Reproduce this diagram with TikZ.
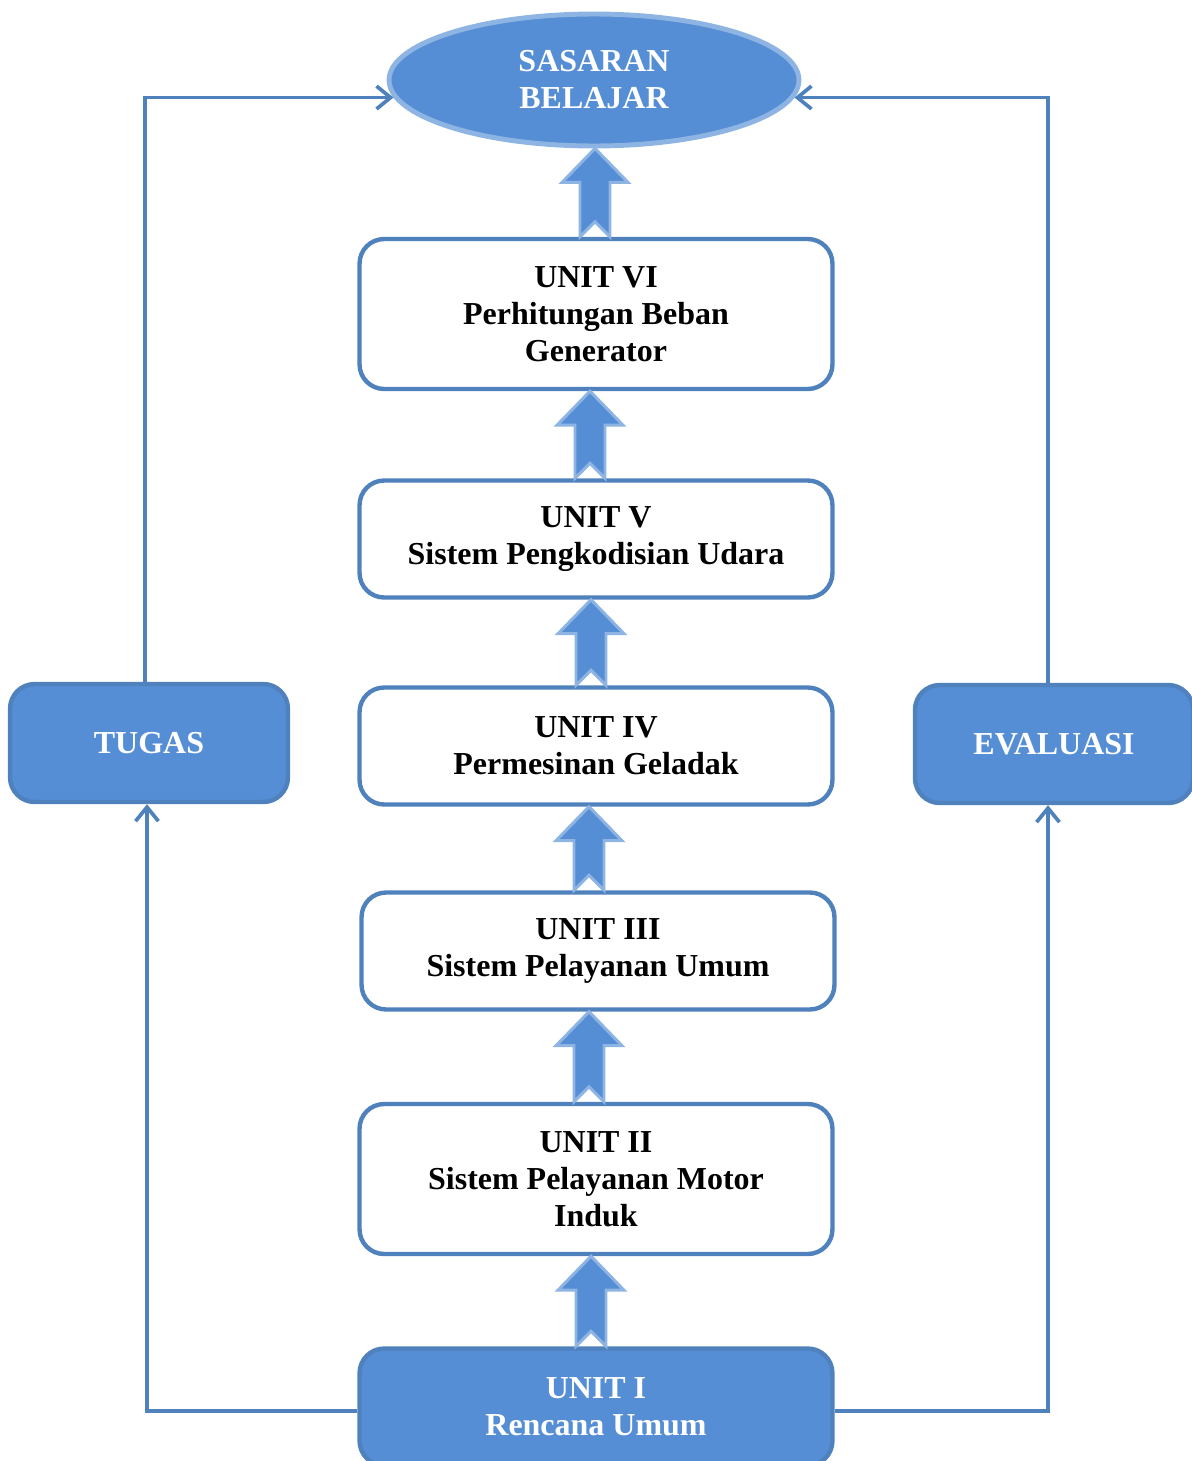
\documentclass[tikz,border=0pt]{standalone}
\usepackage{fontspec}
\setmainfont{Liberation Serif}
\usetikzlibrary{shapes.geometric, arrows.meta, calc}

\definecolor{lineblue}{RGB}{79,129,189}
\definecolor{fillblue}{RGB}{85,142,213}
\definecolor{paleblue}{RGB}{141,180,226}

\tikzset{
    unitbox/.style={draw=lineblue, line width=2.5pt, rounded corners=14pt,
        fill=white, minimum width=9.46cm, minimum height=2.34cm,
        align=center, font=\fontsize{18.2}{21}\selectfont\bfseries},
    bluebox/.style={unitbox, fill=fillblue, text=white},
    sidebox/.style={bluebox, minimum width=5.56cm, minimum height=2.36cm},
    goalshape/.style={ellipse, draw=paleblue, line width=2.8pt, fill=fillblue,
        text=white, minimum width=8.2cm, minimum height=2.64cm, inner sep=0pt,
        align=center, font=\fontsize{18.2}{21}\selectfont\bfseries},
    link/.style={draw=lineblue, line width=2.1pt,
        -{Straight Barb[length=8pt,width=13pt]}},
    blockarr/.style={fill=fillblue, draw=paleblue, line width=1.7pt}
}

\begin{document}
\begin{tikzpicture}[x=0.02cm, y=-0.02cm]
\useasboundingbox (0,0) rectangle (1192,1461);

% Goal and units
\node[goalshape] (goal) at (594,80) {SASARAN\\BELAJAR};
\node[unitbox, minimum height=3cm] (u6) at (596,314) {UNIT VI\\Perhitungan Beban\\Generator};
\node[unitbox] (u5) at (596,539) {UNIT V\\Sistem Pengkodisian Udara};
\node[unitbox] (u4) at (596,746) {UNIT IV\\Permesinan Geladak};
\node[unitbox] (u3) at (598,951) {UNIT III\\Sistem Pelayanan Umum};
\node[unitbox, minimum height=3cm] (u2) at (596,1179) {UNIT II\\Sistem Pelayanan Motor\\Induk};
\node[bluebox] (u1) at (596,1407) {UNIT I\\Rencana Umum};

% Side boxes
\node[sidebox] (tugas) at (149,743) {TUGAS};
\node[sidebox] (eval) at (1054,744) {EVALUASI};

% Block arrows
\foreach \lo/\hi/\dx in {u1/u2/-5, u2/u3/-7, u3/u4/-9, u4/u5/-5, u5/u6/-6, u6/goal/-1}{
    \coordinate (ab) at ($(\lo.north)+(\dx,0)$);
    \coordinate (at) at (ab |- \hi.south);
    \draw[blockarr] ($(ab)+(-15,0)$) -- ($(ab)+(0,-15)$) -- ($(ab)+(15,0)$)
        -- ($(at)+(15,34)$) -- ($(at)+(33,34)$) -- (at)
        -- ($(at)+(-33,34)$) -- ($(at)+(-15,34)$) -- cycle;
}

% Feedback lines
\draw[link] ([xshift=-0.08cm]tugas.north) |- (goal.185);
\draw[link] ([xshift=-0.12cm]eval.north) |- (goal.-5);
\draw[link] ([yshift=-0.08cm]u1.west) -| ([xshift=-0.04cm]tugas.south);
\draw[link] ([yshift=-0.08cm]u1.east) -| ([xshift=-0.12cm]eval.south);

\end{tikzpicture}
\end{document}
